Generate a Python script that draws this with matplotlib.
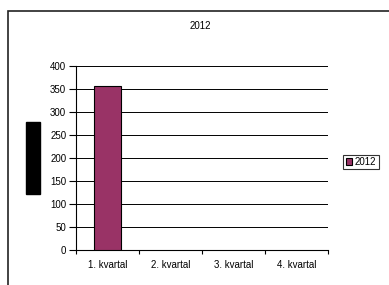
import numpy as np
import matplotlib.pyplot as plt
from matplotlib.patches import Rectangle

plt.rcParams['font.family'] = ['Liberation Sans', 'DejaVu Sans']

categories = ['1. kvartal', '2. kvartal', '3. kvartal', '4. kvartal']
values_2012 = [357, None, None, None]
series_name = '2012'
yticks = [0, 50, 100, 150, 200, 250, 300, 350, 400]

W, H = 389, 285
fig = plt.figure(figsize=(W / 100, H / 100), dpi=100)

# outer chart frame (cut off by the image edge)
fig.patches.append(Rectangle((8 / W, -0.1), 1.2, 1 - 11 / H + 0.1, transform=fig.transFigure,
                             fill=False, edgecolor='#222222', linewidth=1.2))
# y-axis label rendered as a solid black block
fig.patches.append(Rectangle((26 / W, 1 - 194 / H), 14 / W, 72 / H, transform=fig.transFigure,
                             facecolor='black', edgecolor='black'))

ax = fig.add_axes([76 / W, 35 / H, 252 / W, 184 / H])

x = np.arange(len(categories))
xs = [i for i, v in zip(x, values_2012) if v is not None]
vs = [v for v in values_2012 if v is not None]
ax.bar(xs, vs, width=0.44, color='#993366', edgecolor='black', linewidth=0.8,
       label=series_name, zorder=3)

ax.set_xlim(-0.5, len(categories) - 0.5)
ax.set_ylim(0, 400)
ax.set_yticks(yticks)
ax.yaxis.grid(True, color='black', linewidth=0.7, zorder=0)
ax.set_axisbelow(True)

ax.set_xticks(x)
ax.set_xticklabels(categories, fontsize=7)
ax.set_xticks(np.arange(-0.5, len(categories)), minor=True)
ax.tick_params(axis='x', which='major', length=0, pad=7)
ax.tick_params(axis='x', which='minor', length=3, width=0.8, direction='out')
ax.tick_params(axis='y', labelsize=7, length=5, width=0.8, pad=2)

for s in ['top', 'right']:
    ax.spines[s].set_visible(False)
ax.spines['left'].set_linewidth(0.8)
ax.spines['bottom'].set_linewidth(0.8)

fig.text(200 / W, 1 - 26 / H, '2012', fontsize=7, ha='center', va='center')

leg = ax.legend(loc='center', bbox_to_anchor=(361 / W, 1 - 162 / H),
                bbox_transform=fig.transFigure, fontsize=7, frameon=True,
                fancybox=False, handlelength=0.6, handleheight=0.6,
                handletextpad=0.3, borderpad=0.25, borderaxespad=0)
leg.get_frame().set_edgecolor('black')
leg.get_frame().set_linewidth(0.8)

fig.savefig('out.png', dpi=100)
